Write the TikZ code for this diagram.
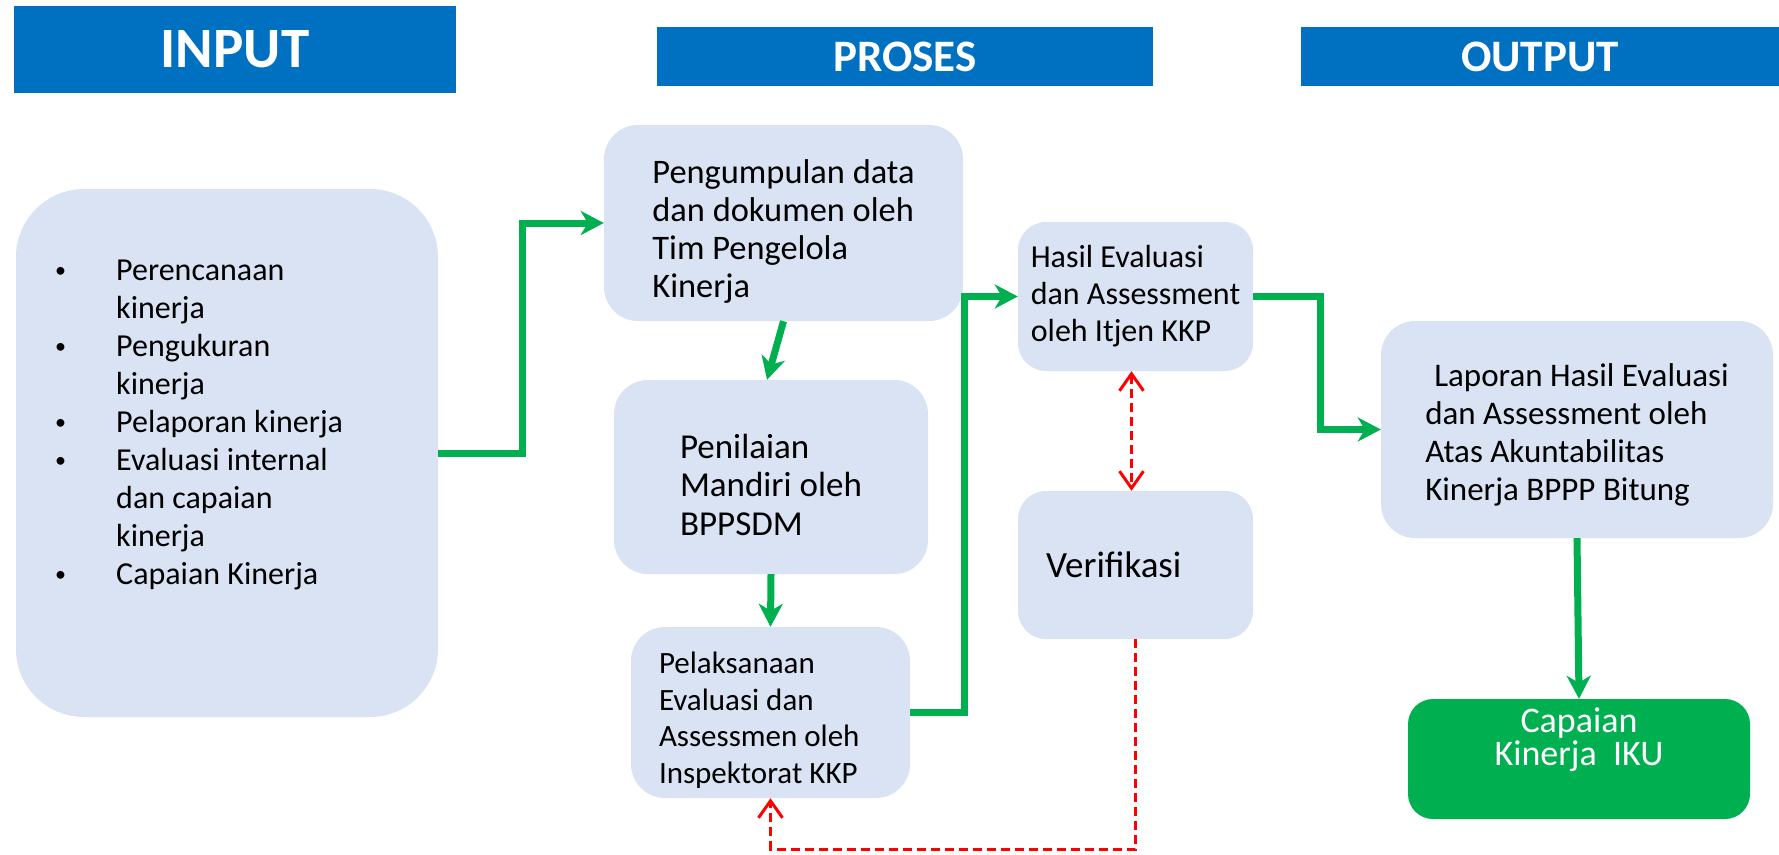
\documentclass[tikz,border=0pt]{standalone}
\usepackage{fontspec}
\setmainfont{Carlito}
\usetikzlibrary{arrows.meta}
\definecolor{headblue}{HTML}{0070C0}
\definecolor{boxfill}{HTML}{DAE3F3}
\definecolor{okgreen}{HTML}{00B050}
\newcommand{\inbul}{\makebox[61pt][l]{\raisebox{3pt}{\fontsize{22}{22}\selectfont\textbullet}}}
\newcommand{\inind}{\hspace*{61pt}}
\newcommand{\toppad}[1]{\rule{0pt}{#1pt}}
\begin{document}
\begin{tikzpicture}[x=1pt,y=-1pt,
  head/.style = {fill=headblue, text=white, inner sep=0pt, font=\fontsize{45}{52}\selectfont\bfseries},
  main/.style = {fill=boxfill, rounded corners=34pt, align=flush left, inner sep=0pt, font=\fontsize{33}{38}\selectfont},
  listtext/.style = {align=flush left, inner sep=0pt, font=\fontsize{32}{38}\selectfont},
  flowline/.style = {draw=okgreen, line width=7pt, -{Stealth[length=23pt,width=24pt,inset=7pt]}},
  verifline/.style = {draw=red, line width=3pt, dash pattern=on 9pt off 5pt},
  barb/.tip = {Straight Barb[length=17pt,width=24pt]}]
\useasboundingbox (0,0) rectangle (1779,854);
\node[head, minimum width=442pt, minimum height=87pt, font=\fontsize{57}{64}\selectfont\bfseries] (inhead) at (235,49) {INPUT};
\node[head, minimum width=496pt, minimum height=59pt] (proshead) at (905,56.5) {PROSES}; \node[head, minimum width=478pt, minimum height=59pt] (outhead) at (1540,56.5) {OUTPUT};
\node[main, minimum width=422pt, minimum height=528pt, rounded corners=68pt] (inbox) at (227,453) {};
\node[listtext, anchor=north west] (inlist) at (55,260) {\inbul Perencanaan\\\inind kinerja\\\inbul Pengukuran\\\inind kinerja\\\inbul Pelaporan kinerja\\\inbul Evaluasi internal\\\inind dan capaian\\\inind kinerja\\\inbul Capaian Kinerja};
\node[main, minimum width=359pt, minimum height=196pt, font=\fontsize{34.4}{38}\selectfont] (kumpul) at (783.5,223) {\toppad{40}Pengumpulan data\\dan dokumen oleh\\Tim Pengelola\\Kinerja};
\node[main, minimum width=314pt, minimum height=194pt, font=\fontsize{35}{38.6}\selectfont] (nilai) at (771,477) {\toppad{40}Penilaian\\Mandiri oleh\\BPPSDM};
\node[main, minimum width=279pt, minimum height=171pt, text width=223pt, inner xsep=28pt, font=\fontsize{31}{36.7}\selectfont] (laksana) at (770.5,712.5) {\toppad{37}Pelaksanaan\\Evaluasi dan\\Assessmen oleh\\Inspektorat KKP};
\node[main, minimum width=235pt, minimum height=149pt, rounded corners=28pt, font=\fontsize{32}{37}\selectfont] (hasil) at (1135.5,296.5) {Hasil Evaluasi\\dan Assessment\\oleh Itjen KKP};
\node[main, minimum width=235pt, minimum height=148pt, text width=179pt, inner xsep=28pt, rounded corners=28pt, font=\fontsize{37}{44}\selectfont] (verif) at (1135.5,565) {Verifikasi};
\node[main, minimum width=392pt, minimum height=217pt] (lapor) at (1577,429.5) {\toppad{34}\hspace*{9pt}Laporan Hasil Evaluasi\\dan Assessment oleh\\Atas Akuntabilitas\\Kinerja BPPP Bitung};
\node[main, fill=okgreen, minimum width=342pt, minimum height=120pt, rounded corners=25pt] (iku) at (1579,759) {};
\node[text=white, align=center, inner sep=0pt, font=\fontsize{36}{33}\selectfont] (ikutext) at (1579,740) {Capaian\\Kinerja\ \ IKU};
\draw[flowline] (inbox.east) -- ++(84,0) |- (kumpul.west); \draw[flowline] (kumpul.south) -- ([xshift=-4pt]nilai.north);
\draw[flowline] (nilai.south) -- (laksana.north); \draw[flowline] (laksana.east) -- ++(54,0) |- (hasil.west);
\draw[flowline] (hasil.east) -- ++(67,0) |- (lapor.west); \draw[flowline] (lapor.south) -- (iku.north);
\draw[verifline, barb-barb] ([xshift=-4pt]hasil.south) -- ([xshift=-4pt]verif.north);
\draw[verifline, -barb] (verif.south) -- ++(0,210) -| (laksana.south);
\end{tikzpicture}
\end{document}
